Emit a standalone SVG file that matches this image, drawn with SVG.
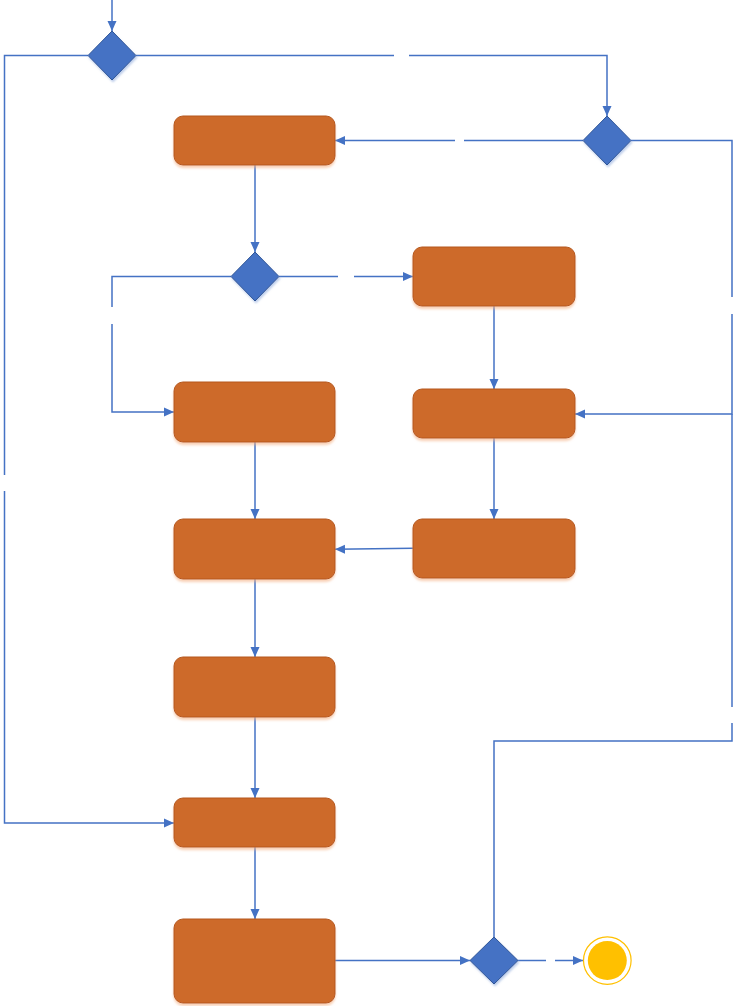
<svg xmlns="http://www.w3.org/2000/svg" width="739" height="1006" viewBox="0 0 739 1006">
<defs>
<marker id="ah" markerUnits="userSpaceOnUse" markerWidth="12" markerHeight="10" refX="10" refY="5" orient="auto">
<path d="M0,0.5 L10,5 L0,9.5 Z" fill="#4472C4"/>
</marker>
<filter id="sh" x="-10%" y="-10%" width="120%" height="130%">
<feDropShadow dx="0" dy="2.5" stdDeviation="1" flood-color="#F4B183" flood-opacity="0.6"/>
</filter>
<filter id="dsh" x="-20%" y="-20%" width="140%" height="140%">
<feDropShadow dx="1" dy="2" stdDeviation="1" flood-color="#8FAADC" flood-opacity="0.6"/>
</filter>
</defs>
<style>
.box{fill:#CD6A2A;stroke:#B5581F;stroke-width:1;filter:url(#sh)}
.dia{fill:#4472C4;stroke:#2F5597;stroke-width:1;filter:url(#dsh)}
.ln{fill:none;stroke:#4472C4;stroke-width:1.5}
.ar{marker-end:url(#ah)}
</style>
<rect width="739" height="1006" fill="#fff"/>
<g id="connectors">
<path class="ln ar" d="M112,0 V31"/>
<path class="ln" d="M136,55.5 H394"/>
<path class="ln ar" d="M409,55.5 H607 V116"/>
<path class="ln" d="M88,55.5 H4.5 V475"/>
<path class="ln ar" d="M4.5,491 V823 H174"/>
<path class="ln" d="M583,140.5 H464"/>
<path class="ln ar" d="M455,140.5 H335"/>
<path class="ln" d="M631,140.5 H732 V297"/>
<path class="ln ar" d="M732,314 V414 H575"/>
<path class="ln" d="M732,414 V707"/>
<path class="ln" d="M494,937 V741 H732 V723"/>
<path class="ln ar" d="M255,165 V252"/>
<path class="ln" d="M231,276.5 H112 V307"/>
<path class="ln ar" d="M112,324 V412 H174"/>
<path class="ln" d="M279,276.5 H338"/>
<path class="ln ar" d="M354,276.5 H413"/>
<path class="ln ar" d="M494,306 V389"/>
<path class="ln ar" d="M255,442 V519"/>
<path class="ln ar" d="M494,438 V519"/>
<path class="ln ar" d="M413,548.3 L335,549.3"/>
<path class="ln ar" d="M255,579 V657"/>
<path class="ln ar" d="M255,717 V798"/>
<path class="ln ar" d="M255,847 V919"/>
<path class="ln ar" d="M335,960.5 H470"/>
<path class="ln" d="M518,960.5 H546"/>
<path class="ln ar" d="M555,960.5 H583"/>
</g>
<g id="d1"><polygon class="dia" points="112,31 136,55.5 112,80 88,55.5"/></g>
<g id="d2"><polygon class="dia" points="607,116 631,140.5 607,165 583,140.5"/></g>
<g id="d3"><polygon class="dia" points="255,252 279,276.5 255,301 231,276.5"/></g>
<g id="d4"><polygon class="dia" points="494,937 518,960.5 494,984 470,960.5"/></g>
<g id="b1"><rect class="box" x="174" y="116" width="161" height="49" rx="9"/></g>
<g id="b2"><rect class="box" x="174" y="382" width="161" height="60" rx="9"/></g>
<g id="b3"><rect class="box" x="413" y="247" width="162" height="59" rx="9"/></g>
<g id="b4"><rect class="box" x="413" y="389" width="162" height="49" rx="9"/></g>
<g id="b5"><rect class="box" x="174" y="519" width="161" height="60" rx="9"/></g>
<g id="b6"><rect class="box" x="413" y="519" width="162" height="59" rx="9"/></g>
<g id="b7"><rect class="box" x="174" y="657" width="161" height="60" rx="9"/></g>
<g id="b8"><rect class="box" x="174" y="798" width="161" height="49" rx="9"/></g>
<g id="b9"><rect class="box" x="174" y="919" width="161" height="84" rx="9"/></g>
<g id="end">
<circle cx="607.3" cy="960.6" r="23.8" fill="#fff" stroke="#FFC000" stroke-width="1.2"/>
<circle cx="607.3" cy="960.6" r="19.5" fill="#FFC000"/>
</g>
</svg>
